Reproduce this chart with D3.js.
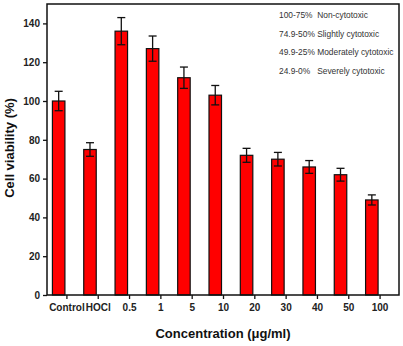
<!DOCTYPE html>
<html>
<head>
<meta charset="utf-8">
<script src="https://cdn.jsdelivr.net/npm/d3@7"></script>
<style>
  body { margin: 0; background: #fff; }
  svg { display: block; font-family: "Liberation Sans", Arial, sans-serif; }
  .axis text { font-weight: bold; font-size: 10px; fill: #222; }
  .axis path, .axis line { stroke: #111; stroke-width: 1.3; }
</style>
</head>
<body>
<div id="container"></div>
<script>
'use strict';
// data
var categories = ['Control', 'HOCl', '0.5', '1', '5', '10', '20', '30', '40', '50', '100'];
var viability = [100, 75, 136, 127, 112, 103, 72, 70, 66, 62, 49];
var errors = [5, 3.5, 7, 6.5, 5.5, 5, 3.6, 3.5, 3.3, 3.3, 2.6];
var yTicks = [0, 20, 40, 60, 80, 100, 120, 140];
var legendLines = ['100-75%  Non-cytotoxic', '74.9-50% Slightly cytotoxic', '49.9-25% Moderately cytotoxic', '24.9-0%   Severely cytotoxic'];

var width = 403, height = 346;
var margin = {top: 4, right: 4, bottom: 51, left: 47};
var plotW = width - margin.left - margin.right,
    plotH = height - margin.top - margin.bottom;

var svg = d3.select('#container').append('svg')
    .attr('width', width)
    .attr('height', height);

var g = svg.append('g')
    .attr('transform', 'translate(' + margin.left + ',' + margin.top + ')');

var x = d3.scalePoint()
    .domain(categories)
    .range([0, plotW])
    .padding(0.62);

var y = d3.scaleLinear()
    .domain([0, 150])
    .range([plotH, 0]);

var barW = 12.5;

// bars (sit just left of their tick, like the original)
g.selectAll('.bar')
    .data(categories)
    .enter().append('rect')
    .attr('class', 'bar')
    .attr('x', function(d) { return x(d) - 14; })
    .attr('y', function(d, i) { return y(viability[i]); })
    .attr('width', barW)
    .attr('height', function(d, i) { return y(0) - y(viability[i]); })
    .attr('fill', '#ff0000')
    .attr('stroke', '#111')
    .attr('stroke-width', 1.2);

// error bars
var err = g.selectAll('.err')
    .data(categories)
    .enter().append('g')
    .attr('class', 'err')
    .attr('stroke', '#111')
    .attr('stroke-width', 1.3);

err.append('line')
    .attr('x1', function(d) { return x(d) - 14 + barW / 2; })
    .attr('x2', function(d) { return x(d) - 14 + barW / 2; })
    .attr('y1', function(d, i) { return y(viability[i] + errors[i]); })
    .attr('y2', function(d, i) { return y(viability[i] - errors[i]); });

[1, -1].forEach(function(s) {
    err.append('line')
        .attr('x1', function(d) { return x(d) - 14 + barW / 2 - 4; })
        .attr('x2', function(d) { return x(d) - 14 + barW / 2 + 4; })
        .attr('y1', function(d, i) { return y(viability[i] + s * errors[i]); })
        .attr('y2', function(d, i) { return y(viability[i] + s * errors[i]); });
});

// axes
g.append('g')
    .attr('class', 'axis')
    .attr('transform', 'translate(0,' + plotH + ')')
    .call(d3.axisBottom(x).tickSize(4).tickPadding(5).tickSizeOuter(0))
    .call(function(a) { a.select('.domain').remove(); });

g.append('g')
    .attr('class', 'axis')
    .call(d3.axisLeft(y).tickValues(yTicks).tickSize(4).tickPadding(3).tickSizeOuter(0))
    .call(function(a) { a.select('.domain').remove(); });

// frame
g.append('rect')
    .attr('width', plotW)
    .attr('height', plotH)
    .attr('fill', 'none')
    .attr('stroke', '#111')
    .attr('stroke-width', 1.5);

// legend text
g.selectAll('.legend')
    .data(legendLines)
    .enter().append('text')
    .attr('class', 'legend')
    .attr('x', 232)
    .attr('y', function(d, i) { return 14 + i * 18.7; })
    .style('white-space', 'pre')
    .attr('font-size', '8.4px')
    .attr('fill', '#333')
    .text(function(d) { return d; });

// titles
svg.append('text')
    .attr('x', margin.left + plotW / 2)
    .attr('y', 338)
    .attr('text-anchor', 'middle')
    .attr('font-size', '13px')
    .attr('font-weight', 'bold')
    .attr('fill', '#111')
    .text('Concentration (\u03bcg/ml)');

svg.append('text')
    .attr('transform', 'translate(14,148) rotate(-90)')
    .attr('text-anchor', 'middle')
    .attr('font-size', '13px')
    .attr('font-weight', 'bold')
    .attr('fill', '#111')
    .text('Cell viability (%)');
</script>
</body>
</html>
